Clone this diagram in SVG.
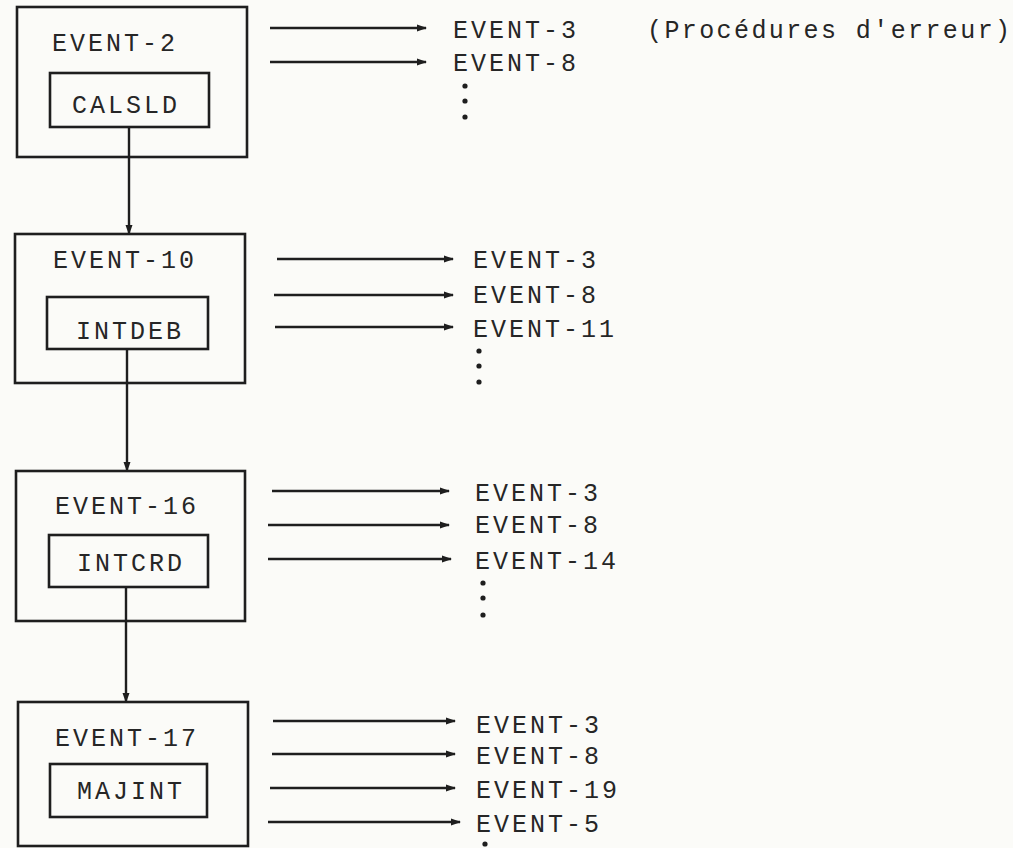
<svg xmlns="http://www.w3.org/2000/svg" width="1013" height="848" viewBox="0 0 1013 848">
<style>
.box{fill:none;stroke:#1e1e1e;stroke-width:2.6}
.t{font-family:"Liberation Mono","DejaVu Sans Mono",monospace;font-size:25px;letter-spacing:3px;fill:#262626}
.p{letter-spacing:2.4px}
.c{stroke:#1e1e1e;stroke-width:2.4;fill:none}
.a{stroke:#1e1e1e;stroke-width:2.4;fill:none;marker-end:url(#ah)}
.d{fill:#1e1e1e}
</style>
<defs>
<marker id="ah" markerWidth="10" markerHeight="8" refX="9" refY="4" orient="auto" markerUnits="userSpaceOnUse">
<path d="M0,0.5 L10,4 L0,7.5 Z" fill="#1e1e1e"/>
</marker>
</defs>
<rect width="1013" height="848" fill="#fbfbf8"/>
<g id="node-event2">
<rect class="box" x="17" y="7" width="230" height="150"/>
<text class="t" x="52" y="51">EVENT-2</text>
<rect class="box" x="50" y="73" width="159" height="54"/>
<text class="t" x="72" y="113">CALSLD</text>
</g>
<g id="node-event10">
<rect class="box" x="15" y="234" width="230" height="149"/>
<text class="t" x="53" y="268">EVENT-10</text>
<rect class="box" x="47" y="297" width="161" height="52"/>
<text class="t" x="76" y="339">INTDEB</text>
</g>
<g id="node-event16">
<rect class="box" x="16" y="471" width="229" height="150"/>
<text class="t" x="55" y="514">EVENT-16</text>
<rect class="box" x="49" y="535" width="159" height="52"/>
<text class="t" x="77" y="571">INTCRD</text>
</g>
<g id="node-event17">
<rect class="box" x="18" y="702" width="230" height="144"/>
<text class="t" x="55" y="746">EVENT-17</text>
<rect class="box" x="50" y="764" width="157" height="53"/>
<text class="t" x="77" y="799">MAJINT</text>
</g>
<g id="targets">
<text class="t" x="453" y="38">EVENT-3</text>
<text class="t" x="453" y="71">EVENT-8</text>
<text class="t p" x="647" y="38">(Procédures d'erreur)</text>
<circle class="d" cx="465" cy="86" r="2.6"/><circle class="d" cx="465" cy="101" r="2.6"/><circle class="d" cx="465" cy="117" r="2.6"/>
<text class="t" x="473" y="268">EVENT-3</text>
<text class="t" x="473" y="303">EVENT-8</text>
<text class="t" x="473" y="337">EVENT-11</text>
<circle class="d" cx="479" cy="351" r="2.6"/><circle class="d" cx="479" cy="366" r="2.6"/><circle class="d" cx="479" cy="382" r="2.6"/>
<text class="t" x="475" y="501">EVENT-3</text>
<text class="t" x="475" y="533">EVENT-8</text>
<text class="t" x="475" y="569">EVENT-14</text>
<circle class="d" cx="483" cy="583" r="2.6"/><circle class="d" cx="483" cy="598" r="2.6"/><circle class="d" cx="483" cy="615" r="2.6"/>
<text class="t" x="476" y="733">EVENT-3</text>
<text class="t" x="476" y="764">EVENT-8</text>
<text class="t" x="476" y="798">EVENT-19</text>
<text class="t" x="476" y="832">EVENT-5</text>
<circle class="d" cx="485" cy="844" r="2.6"/>
</g>
<g id="connectors">
<path class="a" d="M129,127 V234"/>
<path class="a" d="M127,349 V471"/>
<path class="a" d="M126,587 V702"/>
<path class="a" d="M270,28 H426"/>
<path class="a" d="M270,62 H426"/>
<path class="a" d="M277,259 H453"/>
<path class="a" d="M274,295 H453"/>
<path class="a" d="M275,327 H453"/>
<path class="a" d="M272,491 H449"/>
<path class="a" d="M268,525 H449"/>
<path class="a" d="M268,559 H451"/>
<path class="a" d="M273,721 H455"/>
<path class="a" d="M272,754 H455"/>
<path class="a" d="M270,788 H455"/>
<path class="a" d="M268,822 H460"/>
</g>
</svg>
